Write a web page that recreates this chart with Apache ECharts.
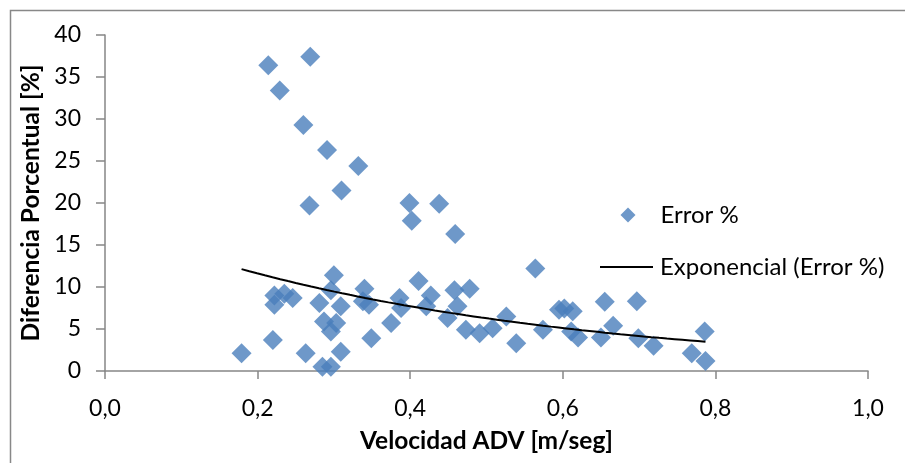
<!DOCTYPE html>
<html>
<head>
<meta charset="utf-8">
<script src="https://cdn.jsdelivr.net/npm/echarts@6/dist/echarts.min.js"></script>
<style>
html,body{margin:0;padding:0;background:#fff;}
#chart{width:905px;height:463px;}
</style>
</head>
<body>
<div id="chart"></div>
<script>
// Velocidad ADV [m/seg]
const velocidad = [
  0.214, 0.269, 0.229, 0.260, 0.291, 0.332, 0.310, 0.268,
  0.179, 0.220, 0.222, 0.222, 0.235, 0.246, 0.281, 0.263,
  0.285, 0.296, 0.300, 0.296, 0.309, 0.287, 0.303, 0.296,
  0.309, 0.340, 0.338, 0.346, 0.349, 0.375, 0.386, 0.388,
  0.399, 0.402, 0.411, 0.427, 0.421, 0.438, 0.459, 0.458,
  0.478, 0.462, 0.449, 0.473, 0.491, 0.508, 0.526, 0.539,
  0.564, 0.574, 0.595, 0.602, 0.613, 0.611, 0.620, 0.655,
  0.650, 0.666, 0.697, 0.699, 0.719, 0.769, 0.787, 0.786
];
// Diferencia Porcentual [%]
const errorPct = [
  36.4, 37.4, 33.4, 29.3, 26.3, 24.4, 21.5, 19.7,
  2.1, 3.7, 9.0, 7.9, 9.2, 8.7, 8.1, 2.1,
  0.5, 0.5, 11.4, 9.6, 7.7, 5.9, 5.7, 4.7,
  2.3, 9.8, 8.3, 7.9, 3.9, 5.7, 8.7, 7.5,
  20.0, 17.9, 10.7, 9.0, 7.7, 19.9, 16.3, 9.6,
  9.8, 7.7, 6.3, 4.9, 4.5, 5.1, 6.5, 3.3,
  12.2, 4.9, 7.3, 7.45, 7.1, 4.7, 4.0, 8.25,
  4.0, 5.4, 8.3, 3.9, 3.0, 2.1, 1.2, 4.7
];
const xTicks = ['0,0','0,2','0,4','0,6','0,8','1,0'];
const seriesNames = ['Error %', 'Exponencial (Error %)'];
// Exponential trendline y = A * exp(B * x), coefficients
const trendA = 17.5;
const trendB = -2.05;

const points = velocidad.map((v, i) => [v, errorPct[i]]);
const xMin = Math.min(...velocidad), xMax = Math.max(...velocidad);
const trend = [];
for (let i = 0; i <= 60; i++) {
  const x = xMin + (xMax - xMin) * i / 60;
  trend.push([x, trendA * Math.exp(trendB * x)]);
}

const FONT = 'Lato';
const chart = echarts.init(document.getElementById('chart'));
chart.setOption({
  animation: false,
  backgroundColor: '#fff',
  graphic: [{
    type: 'rect', left: 8, top: 8, silent: true,
    shape: { x: 0, y: 0, width: 1000, height: 1000 },
    style: { fill: 'none', stroke: '#888888', lineWidth: 1.5 }
  }],
  grid: { left: 105, right: 37, top: 35, bottom: 92, containLabel: false },
  legend: [
    {
      orient: 'vertical', left: 620.5, top: 203, padding: 0, itemWidth: 15, itemHeight: 15,
      textStyle: { fontFamily: FONT, fontSize: 24, lineHeight: 24, color: '#000', padding: [0, 0, 0, 20] },
      data: [{ name: seriesNames[0], icon: 'diamond' }]
    },
    {
      orient: 'vertical', left: 600, top: 255, padding: 0, itemWidth: 53, itemHeight: 2,
      textStyle: { fontFamily: FONT, fontSize: 24, lineHeight: 24, color: '#000', padding: [0, 0, 0, 2] },
      data: [{ name: seriesNames[1], icon: 'path://M0,0H53V2H0Z' }]
    }
  ],
  xAxis: {
    type: 'value', min: 0, max: 1, interval: 0.2,
    name: 'Velocidad ADV [m/seg]', nameLocation: 'middle', nameGap: 58,
    nameTextStyle: { fontFamily: FONT, fontSize: 24.5, fontWeight: 'bold', color: '#000' },
    axisLine: { show: true, lineStyle: { color: '#868686', width: 1.5 } },
    axisTick: { show: true, length: 8, lineStyle: { color: '#868686', width: 1.5 } },
    axisLabel: { margin: 26, fontFamily: FONT, fontSize: 23, color: '#000',
      formatter: (v) => xTicks[Math.round(v / 0.2)] },
    splitLine: { show: false }
  },
  yAxis: {
    type: 'value', min: 0, max: 40, interval: 5,
    name: 'Diferencia Porcentual [%]', nameLocation: 'middle', nameGap: 61, nameRotate: 90,
    nameTextStyle: { fontFamily: FONT, fontSize: 24.5, fontWeight: 'bold', color: '#000' },
    axisLine: { show: true, lineStyle: { color: '#868686', width: 1.5 } },
    axisTick: { show: true, length: 9, lineStyle: { color: '#868686', width: 1.5 } },
    axisLabel: { margin: 24, fontFamily: FONT, fontSize: 23, color: '#000' },
    splitLine: { show: false }
  },
  series: [
    {
      name: seriesNames[0], type: 'scatter', symbol: 'diamond', symbolSize: 20,
      itemStyle: { color: '#4a7ebb' }, data: points, z: 2
    },
    {
      name: seriesNames[1], type: 'line', showSymbol: false, symbol: 'none', smooth: false,
      lineStyle: { color: '#000', width: 2 }, itemStyle: { color: '#000' }, data: trend, z: 3
    }
  ]
});
</script>
</body>
</html>
